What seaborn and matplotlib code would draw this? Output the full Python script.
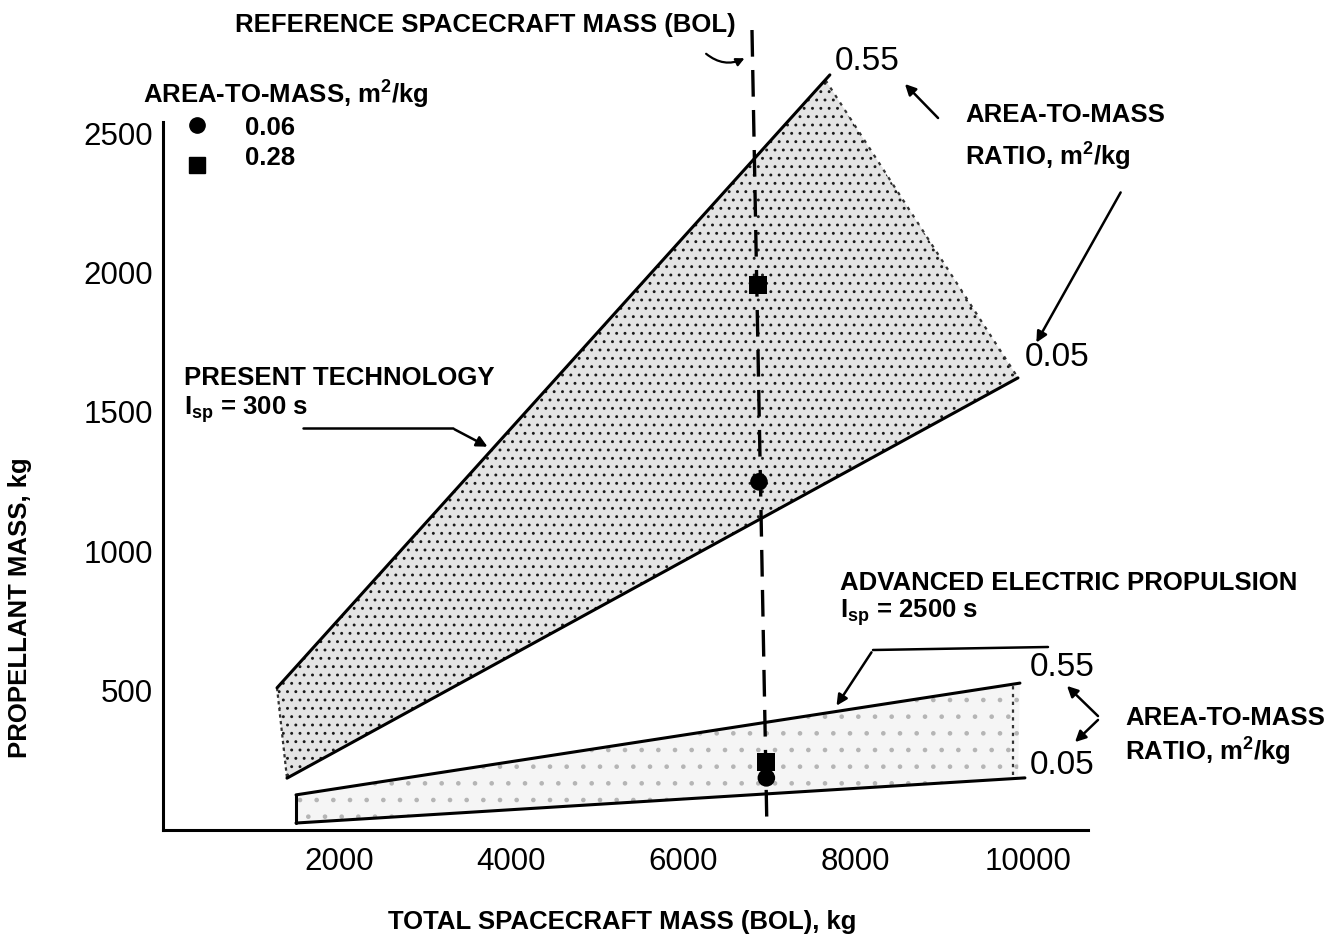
import numpy as np
import pandas as pd
import matplotlib
matplotlib.use("Agg")
import matplotlib.pyplot as plt
import seaborn as sns

# ---------------- data ----------------
# Present technology band (Isp = 300 s)
present_hi_x = [1275, 7700]      # area-to-mass 0.55 line
present_hi_y = [510, 2709]
present_lo_x = [1391, 9886]      # area-to-mass 0.05 line
present_lo_y = [186, 1622]
present_apex = [7650, 2690]      # start of dotted right edge

# Advanced electric propulsion band (Isp = 2500 s)
electric_hi_x = [1496, 9909]
electric_hi_y = [126, 527]
electric_lo_x = [1496, 9967]
electric_lo_y = [25, 187]

# Reference spacecraft points
ref_x = [6865, 6876, 6958, 6962]
ref_y = [1956, 1249, 244, 187]
ref_ratio = ["0.28", "0.06", "0.28", "0.06"]

# Reference mass (dashed) line endpoints
refline_x = [6795, 6969]
refline_y = [2870, 0]

x_ticks = [2000, 4000, 6000, 8000, 10000]
y_ticks = [500, 1000, 1500, 2000, 2500]

# ---------------- style ----------------
sns.set_theme(style="white")
plt.rcParams["font.family"] = ["Liberation Sans", "DejaVu Sans"]
plt.rcParams["mathtext.fontset"] = "custom"
plt.rcParams["mathtext.rm"] = "Liberation Sans"
plt.rcParams["mathtext.bf"] = "Liberation Sans:bold"
plt.rcParams["mathtext.it"] = "Liberation Sans:italic"
plt.rcParams["hatch.linewidth"] = 0.9

W, H = 1335, 941
fig = plt.figure(figsize=(W / 100, H / 100), dpi=100)
fig.patch.set_facecolor("white")
ax = fig.add_axes([163 / W, 1 - 830 / H, (1088 - 163) / W, (830 - 122) / H])
ax.set_xlim(-50, 10700)
ax.set_ylim(0, 2540)


def P(px, py):
    return (px / W, 1 - py / H)


# ---------------- bands ----------------
poly_x = [present_hi_x[0], present_apex[0], present_lo_x[1], present_lo_x[0]]
poly_y = [present_hi_y[0], present_apex[1], present_lo_y[1], present_lo_y[0]]
for patch in ax.fill(poly_x, poly_y, facecolor="#e4e4e4", edgecolor="#1a1a1a",
                     hatch="..", linewidth=0, zorder=1):
    patch.set_clip_on(False)
ax.fill([electric_hi_x[0], electric_hi_x[1], electric_lo_x[1] - 80, electric_lo_x[0]],
        [electric_hi_y[0], electric_hi_y[1], electric_lo_y[1], electric_lo_y[0]],
        facecolor="#f5f5f5", edgecolor="#b5b5b5", hatch=".", linewidth=0, zorder=1)

lines = pd.DataFrame({
    "x": present_hi_x + present_lo_x + electric_hi_x + electric_lo_x,
    "y": present_hi_y + present_lo_y + electric_hi_y + electric_lo_y,
    "line": ["p_hi"] * 2 + ["p_lo"] * 2 + ["e_hi"] * 2 + ["e_lo"] * 2,
})
sns.lineplot(data=lines, x="x", y="y", units="line", estimator=None, sort=False,
             color="black", lw=2.2, ax=ax, zorder=3, legend=False)
for ln in ax.lines:
    ln.set_clip_on(False)

# dotted / edge boundaries
ax.plot([present_apex[0], present_lo_x[1]], [present_apex[1], present_lo_y[1]],
        color="#333333", lw=1.6, ls=(0, (1.5, 2.5)), clip_on=False, zorder=2)
ax.plot([present_hi_x[0], present_lo_x[0]], [present_hi_y[0], present_lo_y[0]],
        color="#333333", lw=1.6, ls=(0, (1.5, 1.5)), zorder=2)
ax.plot([electric_hi_x[0], electric_lo_x[0]], [electric_hi_y[0], electric_lo_y[0]],
        color="black", lw=2.2, zorder=2)
ax.plot([electric_hi_x[1] - 80, electric_hi_x[1] - 80], [electric_lo_y[1] + 10, electric_hi_y[1]],
        color="#333333", lw=1.6, ls=(0, (1.5, 2)), zorder=2)

# dashed reference line
ax.plot(refline_x, refline_y, color="black", lw=2.4, ls=(0, (8, 4)),
        clip_on=False, zorder=4)

# reference points
pts = pd.DataFrame({"x": ref_x, "y": ref_y, "ratio": ref_ratio})
sns.scatterplot(data=pts, x="x", y="y", style="ratio",
                markers={"0.06": "o", "0.28": "s"}, color="black", s=160,
                edgecolor="black", linewidth=0, legend=False, ax=ax, zorder=5)

# ---------------- axes ----------------
ax.set_xticks(x_ticks)
ax.set_yticks(y_ticks)
ax.set_xticklabels([str(t) for t in x_ticks], fontsize=22.5)
ax.set_yticklabels([str(t) for t in y_ticks], fontsize=22.5)
ax.tick_params(axis="x", direction="out", length=9, width=2, pad=3, colors="black")
ax.tick_params(axis="y", direction="in", length=9, width=2, pad=7, colors="black")
for s in ["top", "right"]:
    ax.spines[s].set_visible(False)
for s in ["left", "bottom"]:
    ax.spines[s].set_linewidth(2.2)
    ax.spines[s].set_color("black")
ax.set_xlabel("")
ax.set_ylabel("")

FS = 18.5
bold = dict(fontsize=FS, fontweight="bold", color="black")
fig.text(*P(622, 922), "TOTAL SPACECRAFT MASS (BOL), kg", ha="center", va="center", **bold)
fig.text(*P(20, 608), "PROPELLANT MASS, kg", ha="center", va="center", rotation=90, **bold)

# ---------------- annotations ----------------
fig.text(*P(235, 25), "REFERENCE SPACECRAFT MASS (BOL)", ha="left", va="center", **bold)
ax.annotate("", xy=P(747, 57), xytext=P(704, 52), xycoords="figure fraction",
            textcoords="figure fraction",
            arrowprops=dict(arrowstyle="-|>", color="black", lw=1.6,
                            connectionstyle="arc3,rad=0.35", mutation_scale=12))

# legend
fig.text(*P(143, 95), r"AREA-TO-MASS, m$^\mathbf{2}$/kg", ha="left", va="center", **bold)
fig.text(*P(245, 128), "0.06", ha="left", va="center", **bold)
fig.text(*P(245, 158), "0.28", ha="left", va="center", **bold)
lx, ly = P(197, 125)
fig.add_artist(plt.Line2D([lx], [ly], marker="o", color="black", markersize=11,
                          transform=fig.transFigure))
lx, ly = P(197, 165)
fig.add_artist(plt.Line2D([lx], [ly], marker="s", color="black", markersize=11,
                          transform=fig.transFigure))

# upper ratio labels
fig.text(*P(835, 62), "0.55", ha="left", va="center", fontsize=24, color="black")
fig.text(*P(1025, 358), "0.05", ha="left", va="center", fontsize=24, color="black")
fig.text(*P(965, 115), "AREA-TO-MASS", ha="left", va="center", **bold)
fig.text(*P(965, 157), r"RATIO, m$^\mathbf{2}$/kg", ha="left", va="center", **bold)
arrow = dict(arrowstyle="-|>", color="black", lw=1.8, mutation_scale=16)
ax.annotate("", xy=P(903, 82), xytext=P(940, 120), xycoords="figure fraction",
            textcoords="figure fraction", arrowprops=arrow)
ax.annotate("", xy=P(1035, 345), xytext=P(1122, 190), xycoords="figure fraction",
            textcoords="figure fraction", arrowprops=arrow)

# present technology
fig.text(*P(184, 378), "PRESENT TECHNOLOGY", ha="left", va="center", **bold)
fig.text(*P(184, 410), r"$\mathbf{I_{sp}}$ = 300 s", ha="left", va="center", **bold)
fig.add_artist(plt.Line2D([303 / W, 453 / W], [1 - 428 / H, 1 - 428 / H], color="black",
                          lw=1.8, transform=fig.transFigure))
ax.annotate("", xy=P(490, 448), xytext=P(452, 428), xycoords="figure fraction",
            textcoords="figure fraction", arrowprops=arrow)

# advanced electric propulsion
fig.text(*P(840, 583), "ADVANCED ELECTRIC PROPULSION", ha="left", va="center", **bold)
fig.text(*P(840, 613), r"$\mathbf{I_{sp}}$ = 2500 s", ha="left", va="center", **bold)
fig.add_artist(plt.Line2D([873 / W, 1048 / W], [1 - 650 / H, 1 - 647 / H], color="black",
                          lw=1.8, transform=fig.transFigure))
ax.annotate("", xy=P(835, 708), xytext=P(873, 650), xycoords="figure fraction",
            textcoords="figure fraction", arrowprops=arrow)

# lower ratio labels
fig.text(*P(1030, 668), "0.55", ha="left", va="center", fontsize=24, color="black")
fig.text(*P(1030, 766), "0.05", ha="left", va="center", fontsize=24, color="black")
fig.text(*P(1125, 718), "AREA-TO-MASS", ha="left", va="center", **bold)
fig.text(*P(1125, 752), r"RATIO, m$^\mathbf{2}$/kg", ha="left", va="center", **bold)
ax.annotate("", xy=P(1065, 684), xytext=P(1100, 718), xycoords="figure fraction",
            textcoords="figure fraction", arrowprops=arrow)
ax.annotate("", xy=P(1073, 744), xytext=P(1100, 718), xycoords="figure fraction",
            textcoords="figure fraction", arrowprops=arrow)

fig.savefig("out.png", dpi=100, facecolor="white")
